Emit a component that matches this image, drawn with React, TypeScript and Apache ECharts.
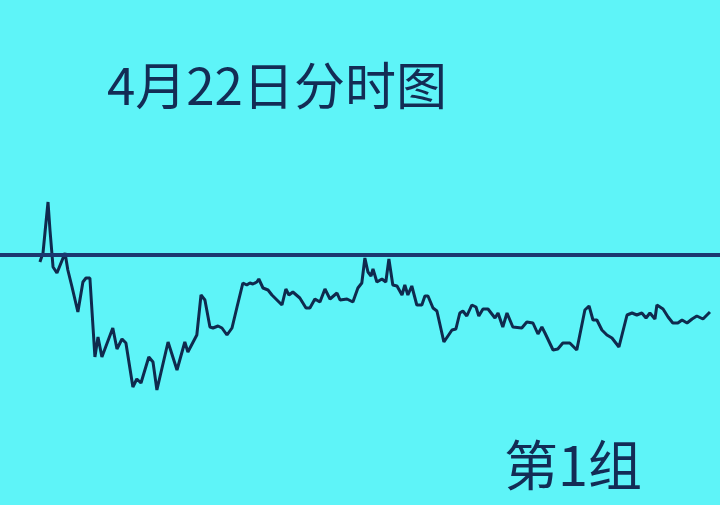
import React, { useEffect, useRef } from "react";
import * as echarts from "echarts";

const titleText = "4月22日分时图";
const groupText = "第1组";

// minutes after open (0–240)
const minutes = [
  0, 1.1, 1.8, 2.9, 3.6, 4.7, 6.1, 9.0, 10.0, 11.5, 13.6, 15.4, 16.5, 17.9, 19.7, 20.8, 22.2, 26.1, 27.6, 29.4,
  30.8, 33.3, 34.7, 36.2, 39.0, 40.5, 41.9, 45.9, 49.1, 51.9, 53.0, 56.2, 57.7, 59.1, 60.9, 62.0, 63.8, 65.2, 67.0, 68.8,
  70.6, 72.7, 74.1, 75.2, 76.3, 77.7, 78.4, 79.9, 81.7, 83.1, 86.7, 88.1, 89.2, 90.6, 93.1, 95.3, 96.7, 98.5, 100.3, 102.1,
  103.9, 106.4, 107.5, 110.0, 112.1, 113.9, 115.3, 116.4, 117.5, 118.6, 119.3, 120.7, 122.5, 123.9, 125.0, 126.4, 127.9, 129.7, 130.7, 131.8,
  133.2, 135.0, 136.8, 137.9, 139.0, 140.8, 142.2, 144.7, 147.6, 149.0, 150.4, 151.5, 152.9, 154.7, 156.2, 157.2, 158.7, 160.5, 163.0, 164.1,
  165.8, 167.3, 169.4, 172.6, 174.4, 176.6, 178.4, 179.8, 180.9, 183.8, 185.5, 187.3, 189.8, 192.3, 195.2, 196.7, 198.1, 199.5, 201.3, 203.1,
  204.9, 207.4, 210.3, 212.1, 213.8, 215.6, 217.1, 218.5, 220.3, 221.0, 223.2, 225.0, 226.7, 228.5, 230.0, 231.8, 233.6, 235.3, 237.5, 240.0,
];

// change vs previous close, %
const changes = [
  -0.14, 0.04, 0.44, 1.06, 0.5, -0.24, -0.36, 0.04, -0.3, -0.64, -1.14, -0.54, -0.46, -0.46, -2.04, -1.64, -2.04, -1.46, -1.88, -1.68,
  -1.76, -2.64, -2.48, -2.56, -2.04, -2.14, -2.7, -1.74, -2.3, -1.74, -1.94, -1.6, -0.8, -0.9, -1.44, -1.46, -1.42, -1.46, -1.6, -1.46,
  -1.04, -0.56, -0.6, -0.56, -0.58, -0.54, -0.48, -0.66, -0.7, -0.8, -1.0, -0.68, -0.8, -0.74, -0.86, -1.06, -1.06, -0.88, -0.94, -0.68,
  -0.88, -0.76, -0.9, -0.88, -0.94, -0.66, -0.56, -0.06, -0.34, -0.42, -0.28, -0.54, -0.48, -0.54, -0.08, -0.6, -0.62, -0.8, -0.6, -0.8,
  -0.62, -1.0, -1.0, -0.82, -0.82, -1.06, -1.12, -1.74, -1.5, -1.48, -1.16, -1.12, -1.22, -1.0, -1.04, -1.22, -1.08, -1.08, -1.26, -1.16,
  -1.44, -1.16, -1.44, -1.46, -1.34, -1.36, -1.58, -1.44, -1.56, -1.9, -1.88, -1.76, -1.76, -1.9, -1.1, -1.02, -1.3, -1.3, -1.5, -1.6,
  -1.66, -1.84, -1.2, -1.16, -1.2, -1.16, -1.26, -1.16, -1.28, -1.0, -1.08, -1.24, -1.36, -1.36, -1.3, -1.36, -1.28, -1.22, -1.28, -1.14,
];

const prevClose = [0];

export default function App() {
  const ref = useRef<HTMLDivElement>(null);
  useEffect(() => {
    if (!ref.current) return;
    const chart = echarts.init(ref.current, null, { renderer: "svg" });
    const navy = "#132c55";
    chart.setOption({
      animation: false,
      backgroundColor: "#5ef4f8",
      grid: { left: 0, right: 0, top: 155, height: 300 },
      xAxis: {
        type: "value",
        min: -14.3,
        max: 243.6,
        show: false,
      },
      yAxis: {
        type: "value",
        min: -4,
        max: 2,
        show: false,
      },
      graphic: [
        {
          type: "text",
          x: 107,
          y: 83,
          style: {
            text: titleText,
            fill: navy,
            font: '51px "Noto Sans CJK SC"',
            verticalAlign: "middle",
            align: "left",
          },
        },
        {
          type: "text",
          x: 504,
          y: 462,
          style: {
            text: groupText,
            fill: navy,
            font: '54px "Noto Sans CJK SC"',
            verticalAlign: "middle",
            align: "left",
          },
        },
      ],
      series: [
        {
          type: "line",
          data: minutes.map((m, i) => [m, changes[i]]),
          symbol: "none",
          lineStyle: { color: "#0f2a4e", width: 3 },
          markLine: {
            silent: true,
            symbol: "none",
            label: { show: false },
            lineStyle: { color: "#1b3870", width: 4, type: "solid" },
            data: prevClose.map((v) => ({ yAxis: v })),
          },
        },
      ],
    });
    return () => chart.dispose();
  }, []);
  return (
    <div
      ref={ref}
      style={{ position: "fixed", left: 0, top: 0, width: 720, height: 505 }}
    />
  );
}
